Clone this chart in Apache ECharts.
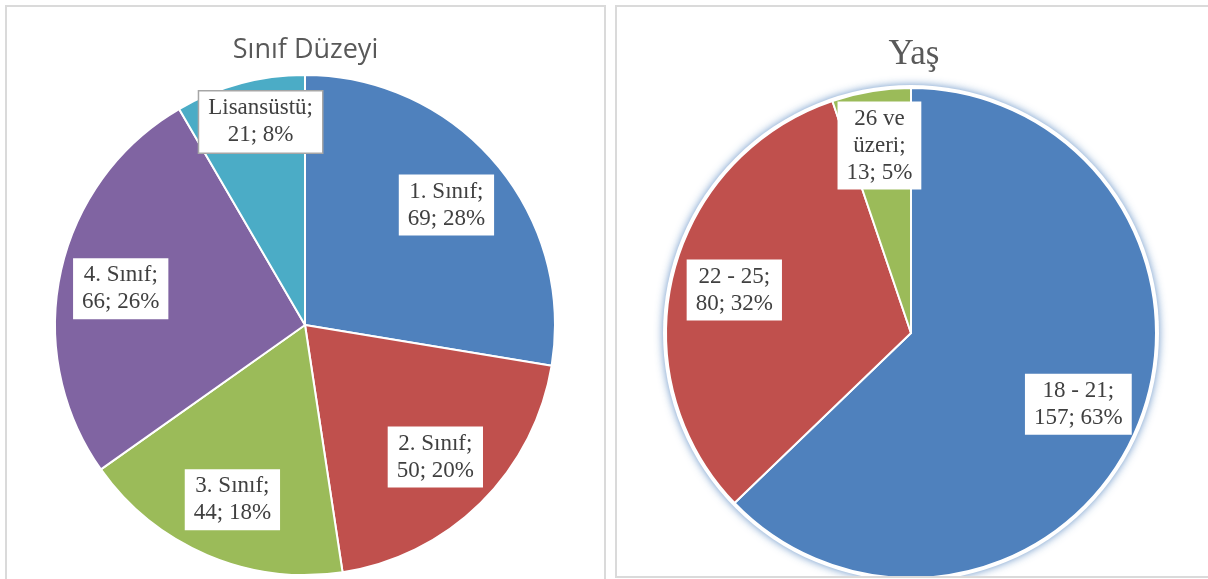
<!DOCTYPE html>
<html>
<head>
<meta charset="utf-8">
<script src="https://cdn.jsdelivr.net/npm/echarts@6/dist/echarts.min.js"></script>
<style>
  html, body { margin: 0; padding: 0; width: 1208px; height: 579px; overflow: hidden; background: #fff; }
  .panel { position: absolute; box-sizing: border-box; border: 2px solid #DADADA; background: #fff; }
  #left { left: 5px; top: 5px; width: 601px; height: 600px; }
  #right { left: 615px; top: 5px; width: 598px; height: 573px; }
</style>
</head>
<body>
<div id="left" class="panel"></div>
<div id="right" class="panel"></div>
<script>
// ---- Data ----
const classTitle = 'Sınıf Düzeyi';
const classCategories = ['1. Sınıf', '2. Sınıf', '3. Sınıf', '4. Sınıf', 'Lisansüstü'];
const classValues = [69, 50, 44, 66, 21];

const ageTitle = 'Yaş';
const ageCategories = ['18 - 21', '22 - 25', '26 ve\nüzeri'];
const ageValues = [157, 80, 13];

// ---- Styles ----
const palette5 = ['#4F81BD', '#C0504D', '#9BBB59', '#8064A2', '#4BACC6'];
const palette3 = ['#4F81BD', '#C0504D', '#9BBB59'];

const labelStyle = {
  show: true,
  position: 'inside',
  formatter: '{b};\n{c}; {d}%',
  fontFamily: '"Liberation Serif", "Times New Roman", serif',
  fontSize: 23,
  lineHeight: 27,
  color: '#404040',
  backgroundColor: '#FFFFFF',
  padding: [4, 9, 3, 9],
  align: 'center'
};

function buildOption(title, titleFont, titleSize, cats, vals, colors, center, r, glow, labelExtra) {
  const pieData = cats.map((c, i) => ({ name: c, value: vals[i], itemStyle: { color: colors[i] } }));
  const labelData = cats.map((c, i) => {
    const d = { name: c, value: vals[i] };
    if (labelExtra && labelExtra[i]) d.label = labelExtra[i];
    return d;
  });
  const series = [];
  if (glow) {
    series.push({
      type: 'pie', center: center, radius: [0, r + 3], silent: true,
      label: { show: false }, labelLine: { show: false },
      itemStyle: { color: '#FFFFFF', shadowBlur: 9, shadowColor: 'rgba(79,129,189,0.85)' },
      data: [{ name: '', value: 1 }]
    });
  }
  series.push({
    type: 'pie', center: center, radius: [0, r], startAngle: 90, clockwise: true,
    silent: true, label: { show: false }, labelLine: { show: false },
    itemStyle: { borderColor: '#FFFFFF', borderWidth: 2 },
    percentPrecision: 0,
    data: pieData
  });
  series.push({
    type: 'pie', center: center, radius: [r * 0.46, r], startAngle: 90, clockwise: true,
    silent: true, percentPrecision: 0,
    itemStyle: { color: 'rgba(0,0,0,0)', borderWidth: 0 },
    label: labelStyle, labelLine: { show: false },
    data: labelData
  });
  return {
    animation: false,
    title: {
      text: title, left: 'center', top: 25,
      textStyle: { fontFamily: titleFont, fontSize: titleSize, fontWeight: 'normal', color: '#595959' }
    },
    series: series
  };
}

const leftChart = echarts.init(document.getElementById('left'), null, { renderer: 'canvas' });
leftChart.setOption(buildOption(classTitle, 'Open Sans', 27, classCategories, classValues, palette5,
  [298, 318], 250, false,
  [null, null, { offset: [0, 4] }, { offset: [-3, 3] }, { borderColor: '#A6A6A6', borderWidth: 1.5, offset: [4, -24] }]));

const rightChart = echarts.init(document.getElementById('right'), null, { renderer: 'canvas' });
rightChart.setOption(buildOption(ageTitle, '"Liberation Serif", "Times New Roman", serif', 35, ageCategories, ageValues, palette3,
  [294, 326], 245, true, [null, null, { offset: [-2, -8] }]));
</script>
</body>
</html>
